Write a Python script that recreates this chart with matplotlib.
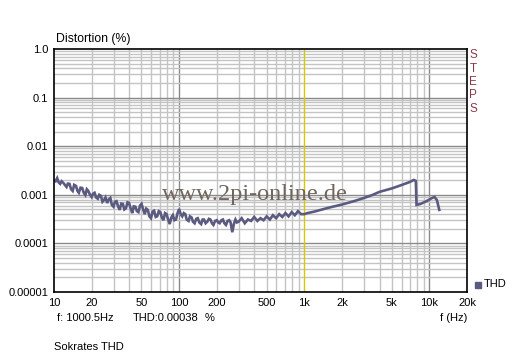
import numpy as np
import matplotlib
matplotlib.use('Agg')
import matplotlib.pyplot as plt

freq_lo = [10, 10.3, 10.6, 10.9, 11.2, 11.5, 11.9, 12.2, 12.6, 12.9,
           13.3, 13.7, 14.1, 14.5, 15.0, 15.4, 15.8, 16.3, 16.8, 17.3,
           17.8, 18.3, 18.8, 19.4, 20.0, 20.5, 21.1, 21.7, 22.4, 23.0,
           23.7, 24.4, 25.1, 25.8, 26.6, 27.4, 28.2, 29.0, 29.9, 30.7,
           31.6, 32.5, 33.5, 34.5, 35.5, 36.5, 37.6, 38.7, 39.8, 41.0,
           42.2, 43.4, 44.7, 46.0, 47.3, 48.7, 50.1, 51.6, 53.1, 54.6,
           56.2, 57.9, 59.6, 61.3, 63.1, 65.0, 66.8, 68.8, 70.8, 72.9,
           75.0, 77.2, 79.4, 81.7, 84.1, 86.6, 89.1, 91.7, 94.4, 97.2,
           100, 103, 106, 109, 112, 115, 119, 122, 126, 129,
           133, 137, 141, 145, 150, 154, 158, 163, 168, 173,
           178, 183, 188, 194, 200, 205, 211, 218, 224, 230,
           237, 244, 251, 258, 266, 274, 282, 290, 299]
thd_lo = [0.0020, 0.0019, 0.0022, 0.0018, 0.00168, 0.0019, 0.00175, 0.0016, 0.00145, 0.0017,
          0.00168, 0.0013, 0.00120, 0.0016, 0.00152, 0.0012, 0.00110, 0.0014, 0.00138, 0.0011,
          0.00099, 0.0013, 0.00120, 0.0010, 0.00090, 0.00105, 0.00110, 0.00088, 0.00083, 0.00100,
          0.00095, 0.00072, 0.00078, 0.00088, 0.00068, 0.00080, 0.00086, 0.00062, 0.00057, 0.00072,
          0.00074, 0.00058, 0.00049, 0.00066, 0.00065, 0.00050, 0.00053, 0.00070, 0.00068, 0.00052,
          0.00042, 0.00058, 0.00057, 0.00046, 0.00044, 0.00060, 0.00065, 0.00050, 0.00040, 0.00052,
          0.00049, 0.00036, 0.00033, 0.00045, 0.00047, 0.00035, 0.00036, 0.00046, 0.00044, 0.00034,
          0.00030, 0.00042, 0.00040, 0.00031, 0.00025, 0.00034, 0.00038, 0.00030, 0.00031, 0.00042,
          0.00051, 0.00040, 0.00036, 0.00042, 0.00040, 0.00031, 0.00029, 0.00036, 0.00034, 0.00028,
          0.00026, 0.00032, 0.00033, 0.00027, 0.00025, 0.00031, 0.00031, 0.00026, 0.00028, 0.00032,
          0.00031, 0.00026, 0.00024, 0.00029, 0.00030, 0.00027, 0.00026, 0.00030, 0.00031, 0.00026,
          0.00024, 0.00029, 0.00030, 0.00027, 0.00017, 0.00025, 0.00031, 0.00027, 0.00028]

# upper part, rising smoothly with the drop near 8k
freq_hi = [316, 335, 355, 376, 398, 422, 447, 473, 501, 531,
           562, 596, 631, 668, 708, 750, 794, 841, 891, 944,
           1000, 1060, 1200, 1400, 1600, 1800, 2000, 2500, 3000, 3500,
           4000, 5000, 6000, 7000, 7500, 7800, 7900, 8500, 9500, 10500,
           11000, 11500, 12000]
thd_hi = [0.00033, 0.00026, 0.00031, 0.00029, 0.00035, 0.00029, 0.00033, 0.00030, 0.00036, 0.00031,
          0.00038, 0.00033, 0.00040, 0.00035, 0.00042, 0.00036, 0.00044, 0.00038, 0.00046, 0.00040,
          0.00040, 0.00042, 0.00045, 0.00050, 0.00055, 0.00059, 0.00063, 0.00074, 0.00086, 0.00099,
          0.00115, 0.00135, 0.00159, 0.00184, 0.00202, 0.00193, 0.00062, 0.00065, 0.00074, 0.00086,
          0.00090, 0.00078, 0.00049]

xticks = [10, 20, 50, 100, 200, 500, 1000, 2000, 5000, 10000, 20000]
xlabels = ['10', '20', '50', '100', '200', '500', '1k', '2k', '5k', '10k', '20k']
yticks = [1e-5, 1e-4, 1e-3, 1e-2, 1e-1, 1]
ylabels = ['0.00001', '0.0001', '0.001', '0.01', '0.1', '1.0']

line_col = '#5b5b82'
fs = 8

plt.rcParams['font.family'] = ['Liberation Sans', 'DejaVu Sans']

fig = plt.figure(figsize=(5.12, 3.58), dpi=100)
ax = fig.add_axes([54/512, 66/358, 413/512, 243/358])
ax.set_xscale('log')
ax.set_yscale('log')
ax.set_xlim(10, 20000)
ax.set_ylim(1e-5, 1)

# grid by hand: light minor lines, darker decades, yellow cursor at 1k
for dec in [10, 100, 1000, 10000]:
    for m in range(2, 10):
        f = dec * m
        if f < 20000:
            ax.axvline(f, color='#c4c4c4', lw=1, zorder=1)
for f in [100, 10000]:
    ax.axvline(f, color='#8a8a8a', lw=1, zorder=1)
ax.axvline(1000, color='#d8c800', lw=1, zorder=2)
for e in range(-5, 0):
    for m in range(2, 10):
        ax.axhline(m * 10.0**e, color='#c4c4c4', lw=1, zorder=1)
for e in range(-4, 0):
    ax.axhline(10.0**e, color='#8a8a8a', lw=1, zorder=1)

ax.text(0.262, 0.40, 'www.2pi-online.de', transform=ax.transAxes, fontsize=17.5,
        family='Liberation Serif', color='#70665e', ha='left', va='center', zorder=3)

ax.plot(freq_lo + freq_hi, thd_lo + thd_hi, color=line_col, lw=1.9, zorder=4,
        solid_joinstyle='miter')

ax.set_xticks(xticks)
ax.set_xticklabels(xlabels, fontsize=fs)
ax.set_yticks(yticks)
ax.set_yticklabels(ylabels, fontsize=fs)
ax.minorticks_off()
ax.tick_params(length=0, pad=4)
for s in ax.spines.values():
    s.set_color('black')
    s.set_linewidth(1.2)
    s.set_zorder(5)

fig.text(56/512, 1 - 39/358, 'Distortion (%)', fontsize=8.8, va='center')
for i, ch in enumerate('STEPS'):
    fig.text(473/512, 1 - (55 + 13.5*i)/358, ch, fontsize=8.5, color='#8b3a4a',
             ha='center', va='center')
fig.patches.append(plt.Rectangle((475/512, 1 - 288/358), 6/512, 6/358,
                                 transform=fig.transFigure, color=line_col))
fig.text(484/512, 1 - 284/358, 'THD', fontsize=fs, va='center')
fig.text(57/512, 1 - 318/358, 'f: 1000.5Hz', fontsize=fs, va='center')
fig.text(133/512, 1 - 318/358, 'THD:0.00038', fontsize=fs, va='center')
fig.text(205/512, 1 - 318/358, '%', fontsize=fs, va='center')
fig.text(467/512, 1 - 318/358, 'f (Hz)', fontsize=fs, va='center', ha='right')
fig.text(54/512, 1 - 347/358, 'Sokrates THD', fontsize=fs, va='center')

fig.savefig('out.png', dpi=100)
